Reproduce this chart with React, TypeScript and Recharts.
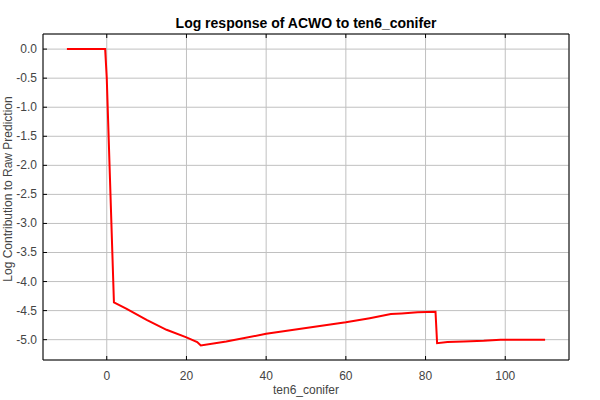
import { LineChart, Line, XAxis, YAxis, CartesianGrid } from 'recharts'

// ── Data ──────────────────────────────────────────────────────────────────────

const CONIFER = [
  -10, -0.4, 0, 1.8, 5, 10, 15, 20, 22.7, 23.6, 30, 40, 50, 60, 66, 71.3, 74, 78, 82.5,
  82.9, 85.5, 89.6, 94.6, 98.8, 110,
]
const LOG_CONTRIB = [
  0, 0, -0.5, -4.36, -4.47, -4.66, -4.83, -4.96, -5.04, -5.1, -5.03, -4.9, -4.8, -4.7,
  -4.63, -4.56, -4.55, -4.53, -4.52, -5.06, -5.04, -5.03, -5.02, -5.0, -5.0,
]

const X_TICKS = [0, 20, 40, 60, 80, 100]
const Y_TICKS = [0, -0.5, -1, -1.5, -2, -2.5, -3, -3.5, -4, -4.5, -5]
const X_DOMAIN: [number, number] = [-16, 116]
const Y_DOMAIN: [number, number] = [-5.35, 0.26]

const data = CONIFER.map((x, i) => ({ x, y: LOG_CONTRIB[i] }))

// ── Style tokens ──────────────────────────────────────────────────────────────

const FONT = '"Liberation Sans", Arial, sans-serif'
const GRID = '#c0c0c0'
const LABEL = '#444444'
const MARK = 4

// ── Ticks: inside marks on all four sides ─────────────────────────────────────

function BottomTick({ x, y, payload }: any) {
  return (
    <g>
      <line x1={x} x2={x} y1={y} y2={y - MARK} stroke="#000" />
      <text x={x} y={y + 20} textAnchor="middle" fontSize={12} fill={LABEL} fontFamily={FONT}>
        {payload.value}
      </text>
    </g>
  )
}

function LeftTick({ x, y, payload }: any) {
  return (
    <g>
      <line x1={x} x2={x + MARK} y1={y} y2={y} stroke="#000" />
      <text x={x - 6} y={y + 4} textAnchor="end" fontSize={12} fill={LABEL} fontFamily={FONT}>
        {Number(payload.value).toFixed(1)}
      </text>
    </g>
  )
}

function TopTick({ x, y }: any) {
  return <line x1={x} x2={x} y1={y} y2={y + MARK} stroke="#000" />
}

function RightTick({ x, y }: any) {
  return <line x1={x} x2={x - MARK} y1={y} y2={y} stroke="#000" />
}

export default function App() {
  return (
    <div style={{ position: 'absolute', top: 0, left: 0, width: 600, height: 400, background: '#fff' }}>
      <div
        style={{
          position: 'absolute',
          top: 15,
          left: 43,
          width: 526,
          textAlign: 'center',
          fontFamily: FONT,
          fontSize: 14,
          lineHeight: '16px',
          fontWeight: 'bold',
          color: '#000',
        }}
      >
        Log response of ACWO to ten6_conifer
      </div>
      <LineChart width={600} height={400} data={data} margin={{ top: 33, right: 30, left: 0, bottom: 0 }}>
        <CartesianGrid stroke={GRID} strokeWidth={1} />
        <XAxis
          dataKey="x"
          type="number"
          domain={X_DOMAIN}
          ticks={X_TICKS}
          height={40}
          tickSize={0}
          tickMargin={0}
          tickLine={false}
          axisLine={{ stroke: '#000' }}
          tick={(p: any) => <BottomTick {...p} />}
          label={(p: any) => {
            const vb = p.viewBox
            return (
              <text x={vb.x + vb.width / 2} y={vb.y + 34} textAnchor="middle" fontSize={12} fill={LABEL} fontFamily={FONT}>
                ten6_conifer
              </text>
            )
          }}
        />
        <XAxis
          xAxisId="top"
          orientation="top"
          dataKey="x"
          type="number"
          domain={X_DOMAIN}
          ticks={X_TICKS}
          height={1}
          tickSize={0}
          tickMargin={0}
          tickLine={false}
          axisLine={{ stroke: '#000' }}
          tick={(p: any) => <TopTick {...p} />}
        />
        <YAxis
          type="number"
          domain={Y_DOMAIN}
          ticks={Y_TICKS}
          width={43}
          tickSize={0}
          tickMargin={0}
          tickLine={false}
          axisLine={{ stroke: '#000' }}
          tick={(p: any) => <LeftTick {...p} />}
          label={(p: any) => {
            const vb = p.viewBox
            const cx = vb.x + 12
            const cy = vb.y + vb.height / 2 - 8
            return (
              <text
                x={cx}
                y={cy}
                transform={`rotate(-90 ${cx} ${cy})`}
                textAnchor="middle"
                fontSize={12}
                fill={LABEL}
                fontFamily={FONT}
              >
                Log Contribution to Raw Prediction
              </text>
            )
          }}
        />
        <YAxis
          yAxisId="right"
          orientation="right"
          type="number"
          domain={Y_DOMAIN}
          ticks={Y_TICKS}
          width={1}
          tickSize={0}
          tickMargin={0}
          tickLine={false}
          axisLine={{ stroke: '#000' }}
          tick={(p: any) => <RightTick {...p} />}
        />
        <Line
          type="linear"
          dataKey="y"
          stroke="#ff0000"
          strokeWidth={2}
          dot={false}
          isAnimationActive={false}
        />
      </LineChart>
    </div>
  )
}
